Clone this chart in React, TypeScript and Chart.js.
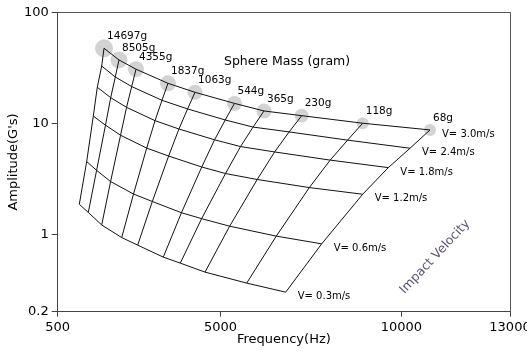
import { useEffect, useRef } from 'react';
import { Chart, registerables } from 'chart.js';

Chart.register(...registerables);

// Sphere masses (columns), heaviest first
const masses = ['14697g', '8505g', '4355g', '1837g', '1063g', '544g', '365g', '230g', '118g', '68g'];
// Impact velocities (rows), fastest first
const velocities = ['V= 3.0m/s', 'V= 2.4m/s', 'V= 1.8m/s', 'V= 1.2m/s', 'V= 0.6m/s', 'V= 0.3m/s'];

// Frequency (Hz) for each mass, one array per velocity
const freqV30 = [1780, 2194, 2664, 3548, 4295, 5386, 6201, 7243, 8929, 10789];
const freqV24 = [1716, 2092, 2545, 3382, 4089, 5130, 5900, 6896, 8512, 10237];
const freqV18 = [1594, 1965, 2403, 3190, 3851, 4835, 5553, 6495, 8031, 9637];
const freqV12 = [1484, 1821, 2237, 2960, 3566, 4481, 5137, 6014, 7454, 8929];
const freqV06 = [1301, 1575, 1962, 2595, 3115, 3920, 4478, 5252, 6541, 7796];
const freqV03 = [1097, 1346, 1716, 2269, 2711, 3418, 3888, 4571, 5723, 6801];

// Amplitude (G's) for each mass, one array per velocity
const ampV30 = [47.4, 37.2, 30.7, 22.9, 19.0, 15.1, 12.9, 11.7, 10.0, 8.7];
const ampV24 = [32.8, 26.1, 21.4, 16.1, 13.45, 10.7, 9.23, 8.35, 7.04, 5.95];
const ampV18 = [21.1, 17.0, 13.9, 10.55, 8.87, 7.09, 6.16, 5.51, 4.65, 3.98];
const ampV12 = [11.6, 9.6, 7.79, 5.97, 5.06, 4.03, 3.52, 3.11, 2.63, 2.29];
const ampV06 = [4.51, 3.76, 2.98, 2.3, 1.97, 1.56, 1.38, 1.18, 0.96, 0.818];
const ampV03 = [1.86, 1.57, 1.21, 0.932, 0.796, 0.621, 0.548, 0.455, 0.362, 0.3];

// Axis ticks
const xTicks = [500, 5000, 10000, 13000];
const yTicks = [0.2, 1, 10, 100];

// Annotation anchors (data coordinates)
const massTitle = { text: 'Sphere Mass (gram)', x: 5096, y: 35.6 };
const velocityTitle = { text: 'Impact Velocity', x: 10927, y: 0.624 };

const rowFreqs = [freqV30, freqV24, freqV18, freqV12, freqV06, freqV03];
const rowAmps = [ampV30, ampV24, ampV18, ampV12, ampV06, ampV03];

const circleRadii = [9, 8.5, 8, 8, 7.5, 7.5, 7.5, 7, 6, 6];

const FONT = '"DejaVu Sans", sans-serif';

const overlay = {
  id: 'overlay',
  afterDatasetsDraw(chart: any) {
    const { ctx, chartArea, scales } = chart;
    const xs = scales.x;
    const ys = scales.y;
    const px = (v: number) => xs.getPixelForValue(v);
    const py = (v: number) => ys.getPixelForValue(v);
    ctx.save();
    // top & right frame
    ctx.strokeStyle = '#555';
    ctx.lineWidth = 1;
    ctx.beginPath();
    ctx.moveTo(chartArea.left, Math.round(chartArea.top) + 0.5);
    ctx.lineTo(Math.round(chartArea.right) + 0.5, Math.round(chartArea.top) + 0.5);
    ctx.lineTo(Math.round(chartArea.right) + 0.5, chartArea.bottom);
    ctx.stroke();

    ctx.fillStyle = '#000';
    ctx.textAlign = 'left';
    ctx.textBaseline = 'middle';
    ctx.font = `10.5px ${FONT}`;
    masses.forEach((m, i) => {
      ctx.fillText(m, px(freqV30[i]) + 3, py(ampV30[i]) - 12);
    });
    ctx.font = `10px ${FONT}`;
    velocities.forEach((v, j) => {
      const f = rowFreqs[j];
      const a = rowAmps[j];
      ctx.fillText(v, px(f[f.length - 1]) + 12, py(a[a.length - 1]) + 4.5);
    });
    ctx.font = `12.5px ${FONT}`;
    ctx.fillText(massTitle.text, px(massTitle.x), py(massTitle.y));

    ctx.save();
    ctx.translate(px(velocityTitle.x), py(velocityTitle.y));
    ctx.rotate((-47 * Math.PI) / 180);
    ctx.textAlign = 'center';
    ctx.fillStyle = '#5e5470';
    ctx.font = `12.5px ${FONT}`;
    ctx.fillText(velocityTitle.text, 0, 0);
    ctx.restore();

    // axis titles
    ctx.fillStyle = '#000';
    ctx.font = `13px ${FONT}`;
    ctx.textAlign = 'center';
    ctx.fillText('Frequency(Hz)', (chartArea.left + chartArea.right) / 2, 339.5);
    ctx.save();
    ctx.translate(14, (chartArea.top + chartArea.bottom) / 2);
    ctx.rotate(-Math.PI / 2);
    ctx.fillText("Amplitude(G's)", 0, 0);
    ctx.restore();
    ctx.restore();
  },
};

export default function App() {
  const ref = useRef<HTMLCanvasElement | null>(null);
  useEffect(() => {
    if (!ref.current) return;
    const rowSets = rowFreqs.map((f, j) => ({
      data: f.map((x, i) => ({ x, y: rowAmps[j][i] })),
      showLine: true,
      borderColor: '#111',
      borderWidth: 1,
      pointRadius: 0,
      order: 0,
    }));
    const colSets = masses.map((_, i) => ({
      data: rowFreqs.map((f, j) => ({ x: f[i], y: rowAmps[j][i] })),
      showLine: true,
      borderColor: '#111',
      borderWidth: 1,
      pointRadius: 0,
      order: 0,
    }));
    const circles = {
      data: freqV30.map((x, i) => ({ x, y: ampV30[i] })),
      showLine: false,
      pointRadius: circleRadii,
      pointBackgroundColor: '#d3d3d3',
      pointBorderWidth: 0,
      order: 10,
    };
    const chart = new Chart(ref.current, {
      type: 'scatter',
      data: { datasets: [...rowSets, ...colSets, circles] as any },
      plugins: [overlay],
      options: {
        responsive: false,
        animation: false,
        events: [],
        layout: { padding: { left: 0, top: 12.3, right: 17, bottom: 0 } },
        plugins: { legend: { display: false }, tooltip: { enabled: false } },
        scales: {
          x: {
            type: 'linear',
            min: 500,
            max: 13000,
            afterBuildTicks: (s: any) => {
              s.ticks = xTicks.map((value) => ({ value }));
            },
            afterFit: (s: any) => {
              s.height = 40.3;
              s.paddingLeft = 0;
              s.paddingRight = 0;
            },
            grid: { drawOnChartArea: false, drawTicks: true, tickLength: 5, color: '#444' },
            border: { color: '#444', width: 1 },
            ticks: {
              autoSkip: false,
              maxRotation: 0,
              padding: 3,
              color: '#000',
              font: { family: 'DejaVu Sans', size: 13 },
              callback: (v: any) => String(v),
            },
          },
          y: {
            type: 'logarithmic',
            min: 0.2,
            max: 100,
            afterBuildTicks: (s: any) => {
              s.ticks = yTicks.map((value) => ({ value }));
            },
            afterFit: (s: any) => {
              s.width = 57.7;
              s.paddingTop = 0;
              s.paddingBottom = 0;
            },
            grid: { drawOnChartArea: false, drawTicks: true, tickLength: 6, color: '#444' },
            border: { color: '#444', width: 1 },
            ticks: {
              autoSkip: false,
              padding: 3,
              color: '#000',
              font: { family: 'DejaVu Sans', size: 13 },
              callback: (v: any) => String(v),
            },
          },
        },
      },
    });
    return () => chart.destroy();
  }, []);
  return (
    <div style={{ position: 'absolute', left: 0, top: 0, width: 527, height: 352 }}>
      <canvas ref={ref} width={527} height={352} style={{ display: 'block' }} />
    </div>
  );
}
